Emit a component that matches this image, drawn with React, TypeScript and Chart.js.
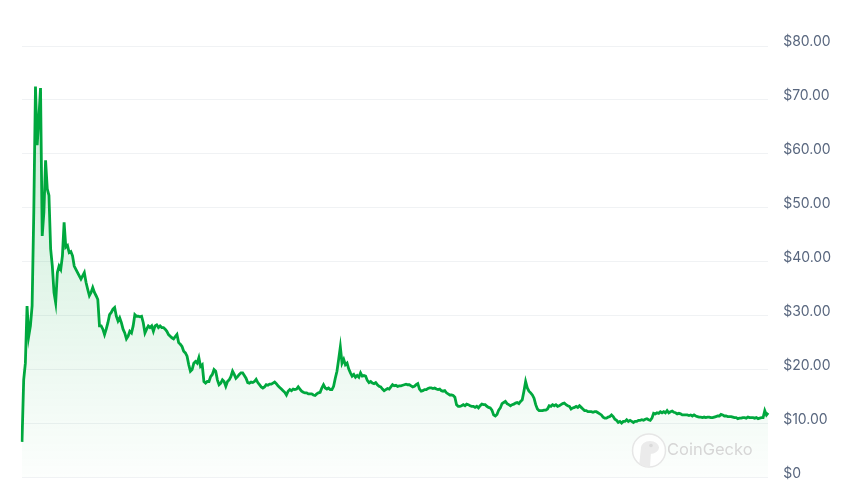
import { useEffect, useRef } from 'react';
import Chart from 'chart.js/auto';

// price samples, left to right (USD)
const prices: number[] = [
  // launch spike
  6.6, 18.1, 21.2, 31.8, 26.2, 28.1, 31.8, 49.2, 72.5, 61.6,
  66.6, 72.2, 44.8, 49.2, 58.8, 53.5, 52.3, 42.4, 39.2, 34.3,
  32.4, 38.0, 39.2, 38.6, 41.1, 47.3, 42.7, 43.0, 41.7, 41.9,
  41.1, 39.2, 38.6, 38.0, 37.4, 36.8, 37.4, 38.0, 36.2, 34.9,
  33.7,
  // slide down to ~$20
  34.3, 35.2, 34.3, 33.7, 33.0, 28.1, 28.1, 27.5, 26.5, 27.5,
  28.7, 30.2, 30.6, 31.2, 31.5, 29.9, 29.0, 29.6, 28.7, 27.5,
  26.8, 25.7, 26.2, 27.1, 26.8, 28.1, 30.2, 29.9, 29.9, 29.8,
  29.9, 28.7, 26.8, 27.5, 28.1, 27.8, 28.1, 27.1, 28.1, 28.3,
  27.8, 28.1, 27.8, 27.8, 27.5, 27.1, 26.5, 26.2, 25.9, 25.7,
  26.1, 26.5, 25.0, 24.7, 24.3, 23.4, 23.1, 22.5, 20.9, 19.7,
  20.0, 21.2, 21.5, 21.2, 22.2, 20.6, 20.9, 17.8, 17.5, 17.8,
  17.8, 18.7, 19.1, 20.0, 19.7, 18.1, 17.2, 17.5, 18.1, 17.8,
  16.9, 17.8, 18.1, 18.7, 19.7, 19.1, 18.4, 18.7, 19.1, 19.4,
  // mid range
  19.4, 18.9, 18.4, 17.6, 17.5, 17.7, 17.6, 17.8, 18.2, 17.6,
  17.2, 16.8, 16.6, 16.8, 17.2, 17.1, 17.3, 17.3, 17.5, 17.7,
  17.4, 17.0, 16.7, 16.4, 16.1, 15.8, 15.3, 16.0, 16.3, 16.1,
  16.4, 16.3, 16.4, 16.8, 16.4, 16.0, 15.8, 15.7, 15.7, 15.5,
  15.5, 15.5, 15.3, 15.2, 15.5, 15.7, 15.8, 16.6, 17.2, 16.6,
  16.4, 16.6, 16.3, 16.3, 16.9, 18.4, 19.7, 21.9, 24.2, 21.2,
  21.9, 20.9, 21.2, 20.1, 19.4, 18.8, 19.1, 18.6, 18.9, 18.6,
  19.4, 18.8, 18.9, 18.8, 18.0, 17.6, 17.8, 17.5, 17.4, 17.6,
  17.2, 16.9, 16.8, 16.4, 16.1, 16.3, 16.5, 16.4, 16.8, 17.2,
  17.0, 17.1, 16.9, 17.0, 17.0, 17.1,
  17.2, 17.3, 17.2, 17.2, 17.0, 16.8, 16.9, 17.2, 17.4, 16.4,
  16.0, 16.1, 16.3, 16.3, 16.5, 16.6, 16.6, 16.5, 16.6, 16.4,
  16.3, 16.4, 16.1, 16.0, 16.1, 15.7, 15.5, 15.3, 15.3, 15.2,
  14.9, 13.5, 13.2, 13.2, 13.3, 13.5, 13.3, 13.6, 13.5, 13.3,
  13.2, 13.2, 13.0, 13.2, 12.9, 13.3, 13.6, 13.5, 13.5, 13.2,
  13.0, 12.9, 12.5, 11.6, 11.4, 11.7, 12.5, 12.9, 13.7, 13.9,
  14.1, 13.7, 13.5, 13.3, 13.5, 13.6, 13.8, 13.9, 13.7, 14.1,
  14.4, 16.0, 17.8, 16.6, 16.0, 15.7, 15.3, 14.7, 13.5, 12.7,
  12.4, 12.4, 12.4, 12.5, 12.5, 12.7, 13.3, 13.2, 13.5, 13.3,
  13.5, 13.2, 13.3, 13.5, 13.7, 13.8,
  // recent flat stretch
  13.5, 13.3, 13.2, 12.7, 12.9, 13.0, 13.2, 13.0, 13.3, 13.0,
  12.7, 12.4, 12.4, 12.2, 12.2, 12.2, 12.1, 12.2, 12.2, 12.0,
  11.8, 11.6, 11.2, 11.0, 11.0, 11.2, 11.3, 11.6, 11.3, 10.8,
  10.6, 10.2, 10.4, 10.1, 10.4, 10.4, 10.7, 10.4, 10.6, 10.4,
  10.2, 10.4, 10.4, 10.6, 10.6, 10.7, 10.6, 10.8, 10.9, 10.7,
  10.6, 11.0, 11.9, 11.8, 12.0, 11.9, 12.2, 12.0, 12.2, 12.0,
  12.4, 12.0, 12.2, 12.3, 12.1, 12.0, 11.8, 11.9, 11.8, 11.6,
  11.6, 11.6, 11.6, 11.5, 11.6, 11.4, 11.6, 11.4, 11.3, 11.2,
  11.2, 11.1, 11.2, 11.1, 11.2, 11.2, 11.1, 11.1, 11.2, 11.3,
  11.4, 11.4, 11.7, 11.6, 11.4, 11.4, 11.3, 11.3, 11.3, 11.2,
  11.1, 11.1, 10.9, 11.0, 11.0, 11.1, 11.1, 11.0, 11.2, 11.1,
  11.1, 11.1, 11.0, 11.1, 10.9, 11.0, 11.1, 11.1, 12.4, 11.6,
  12.0,
];

const dayLabels: string[] = prices.map((_, i) => `Day ${i + 1}`);

const yTicks: number[] = [0, 10, 20, 30, 40, 50, 60, 70, 80];

const GREEN = '#00a83e';

const watermark = {
  id: 'cgWatermark',
  afterDraw(chart: Chart) {
    const { ctx } = chart;
    const cx = 649;
    const cy = 450.5;
    const r = 16.5;
    ctx.save();
    ctx.beginPath();
    ctx.arc(cx, cy, r, 0, Math.PI * 2);
    ctx.fillStyle = 'rgba(255,255,255,0.75)';
    ctx.fill();
    ctx.lineWidth = 1.5;
    ctx.strokeStyle = '#e6e6e6';
    ctx.stroke();
    ctx.clip();
    // gecko head
    ctx.fillStyle = '#ebebeb';
    ctx.beginPath();
    ctx.ellipse(cx + 1, cy - 3, 9, 6.5, 0, 0, Math.PI * 2);
    ctx.fill();
    ctx.beginPath();
    ctx.moveTo(cx - 8, cy - 3);
    ctx.lineTo(cx + 2, cy);
    ctx.lineTo(cx + 1, cy + r);
    ctx.lineTo(cx - 10, cy + r);
    ctx.closePath();
    ctx.fill();
    ctx.fillStyle = '#dadada';
    ctx.beginPath();
    ctx.arc(cx + 2, cy - 5, 1.8, 0, Math.PI * 2);
    ctx.fill();
    ctx.restore();

    ctx.save();
    ctx.font = '16.5px Inter, "Noto Sans", sans-serif';
    ctx.fillStyle = '#d6d6d6';
    ctx.textBaseline = 'middle';
    ctx.textAlign = 'left';
    ctx.fillText('CoinGecko', 667, 450.5);
    ctx.restore();
  },
};

export default function App() {
  const canvasRef = useRef<HTMLCanvasElement | null>(null);
  const chartRef = useRef<Chart | null>(null);

  useEffect(() => {
    if (!canvasRef.current) return;
    if (chartRef.current) chartRef.current.destroy();

    chartRef.current = new Chart(canvasRef.current, {
      type: 'line',
      data: {
        labels: dayLabels,
        datasets: [
          {
            label: 'Price',
            data: prices,
            borderColor: GREEN,
            borderWidth: 2.8,
            pointRadius: 0,
            tension: 0,
            fill: 'start',
            backgroundColor: (context: any) => {
              const { chart } = context;
              const area = chart.chartArea;
              if (!area) return 'rgba(0,168,62,0.1)';
              const g = chart.ctx.createLinearGradient(0, area.top, 0, area.bottom);
              g.addColorStop(0, 'rgba(0,168,62,0.22)');
              g.addColorStop(0.6, 'rgba(0,168,62,0.10)');
              g.addColorStop(1, 'rgba(0,168,62,0.01)');
              return g;
            },
          },
        ],
      },
      options: {
        responsive: true,
        maintainAspectRatio: false,
        animation: false,
        layout: {
          padding: { left: 22, right: 15, top: 46, bottom: 15.5 },
        },
        plugins: {
          legend: { display: false },
          tooltip: { enabled: false },
        },
        scales: {
          x: {
            display: false,
            offset: false,
          },
          y: {
            position: 'right',
            min: 0,
            max: 80,
            border: { display: false },
            grid: {
              color: '#f0f2f4',
              lineWidth: 1,
              drawTicks: false,
            },
            afterBuildTicks: (scale: any) => {
              scale.ticks = yTicks.map((v) => ({ value: v }));
            },
            afterFit: (scale: any) => {
              // keep tick padding from eating the plot height
              scale.paddingTop = 0;
              scale.paddingBottom = 0;
            },
            ticks: {
              padding: 15,
              labelOffset: -4,
              color: '#58667e',
              font: { family: 'Inter, "Noto Sans", sans-serif', size: 14 },
              callback: (value: string | number) => {
                const v = Number(value);
                return v === 0 ? '$0' : `$${v.toFixed(2)}`;
              },
            },
          },
        },
      },
      plugins: [watermark],
    });

    return () => {
      if (chartRef.current) {
        chartRef.current.destroy();
        chartRef.current = null;
      }
    };
  }, []);

  return (
    <div style={{ position: 'fixed', left: 0, top: 0, width: 861, height: 493, background: '#fff' }}>
      <canvas ref={canvasRef} />
    </div>
  );
}
